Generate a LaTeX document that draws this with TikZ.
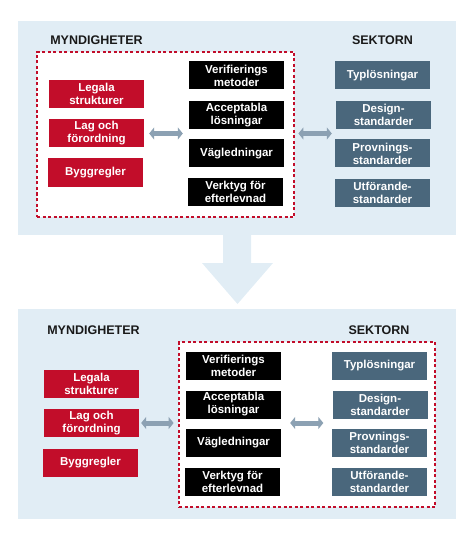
\documentclass[tikz,border=0pt]{standalone}
\usepackage{fontspec}
\setmainfont{Liberation Sans}
\usetikzlibrary{arrows.meta}
\definecolor{panelblue}{HTML}{E1EDF5}
\definecolor{lawred}{HTML}{C20D2A}
\definecolor{slate}{HTML}{4A677C}
\definecolor{arrowgray}{HTML}{8CA1B3}

\begin{document}
\begin{tikzpicture}[x=1pt, y=-1pt,
  box/.style = {minimum width=95pt, minimum height=28pt, inner sep=0pt, align=center,
                text=white, font=\fontsize{11.5}{13}\selectfont\bfseries},
  redbox/.style = {box, fill=lawred},
  blackbox/.style = {box, fill=black},
  slatebox/.style = {box, fill=slate},
  head/.style = {font=\fontsize{12.5}{14}\selectfont\bfseries, text=black!90},
  frame/.style = {draw=lawred, line width=2.8pt, dash pattern=on 3pt off 2.5pt, fill=white, inner sep=0pt},
  dbl/.style = {draw=arrowgray, line width=5pt, {Triangle[width=12pt,length=5pt]}-{Triangle[width=12pt,length=5pt]}}]
\useasboundingbox (0,0) rectangle (475,540);
% panels and the big arrow between them
\fill[panelblue] (18,21) rectangle (456,235);
\fill[panelblue] (18,309) rectangle (456,519);
\fill[panelblue] (223,234) -- (251,234) -- (251,263) -- (273,263) -- (237.5,304) -- (202,263) -- (223,263) -- cycle;

% top panel
\node[head] (m1) at (96.5,40) {MYNDIGHETER};
\node[head] (k1) at (382.5,40) {SEKTORN};
\node[frame, minimum width=257pt, minimum height=165pt] (f1) at (165.5,134.5) {};
\node[redbox] (r1) at (96.5,94) {Legala\\strukturer};
\node[redbox] (r2) at (96.5,133.5) {Lag och\\förordning};
\node[redbox] (r3) at (95.5,172.5) {Byggregler};
\node[blackbox] (b1) at (236.5,75.5) {Verifierings\\metoder};
\node[blackbox] (b2) at (236.5,115) {Acceptabla\\lösningar};
\node[blackbox] (b3) at (236.5,153.5) {Vägledningar};
\node[blackbox] (b4) at (235.5,192) {Verktyg för\\efterlevnad};
\node[slatebox] (s1) at (382.5,75.5) {Typlösningar};
\node[slatebox] (s2) at (383.5,115) {Design-\\standarder};
\node[slatebox] (s3) at (382.5,153.5) {Provnings-\\standarder};
\node[slatebox] (s4) at (382.5,192.5) {Utförande-\\standarder};
\draw[dbl, shorten <=5pt, shorten >=6pt] (r2.east) -- (r2.east -| b2.west);
\draw[dbl, shorten <=3pt, shorten >=4pt] (f1.east |- r2) -- (s2.west |- r2);

% bottom panel
\node[head] (m2) at (93.5,330) {MYNDIGHETER};
\node[head] (k2) at (379,330) {SEKTORN};
\node[frame, minimum width=256pt, minimum height=165pt] (f2) at (307,424.5) {};
\node[redbox] (R1) at (91.5,384) {Legala\\strukturer};
\node[redbox] (R2) at (91.5,423) {Lag och\\förordning};
\node[redbox] (R3) at (90.5,462.5) {Byggregler};
\node[blackbox] (B1) at (233.5,365.5) {Verifierings\\metoder};
\node[blackbox] (B2) at (233.5,404.5) {Acceptabla\\lösningar};
\node[blackbox] (B3) at (233.5,443) {Vägledningar};
\node[blackbox] (B4) at (232.5,481.5) {Verktyg för\\efterlevnad};
\node[slatebox] (S1) at (379.5,365.5) {Typlösningar};
\node[slatebox] (S2) at (380,404.5) {Design-\\standarder};
\node[slatebox] (S3) at (379.5,443) {Provnings-\\standarder};
\node[slatebox] (S4) at (379.5,481.5) {Utförande-\\standarder};
\draw[dbl, shorten <=2pt, shorten >=4pt] (R2.east) -- (R2.east -| f2.west);
\draw[dbl, shorten <=9pt, shorten >=9pt] (B2.east |- R2) -- (S2.west |- R2);
\end{tikzpicture}
\end{document}
